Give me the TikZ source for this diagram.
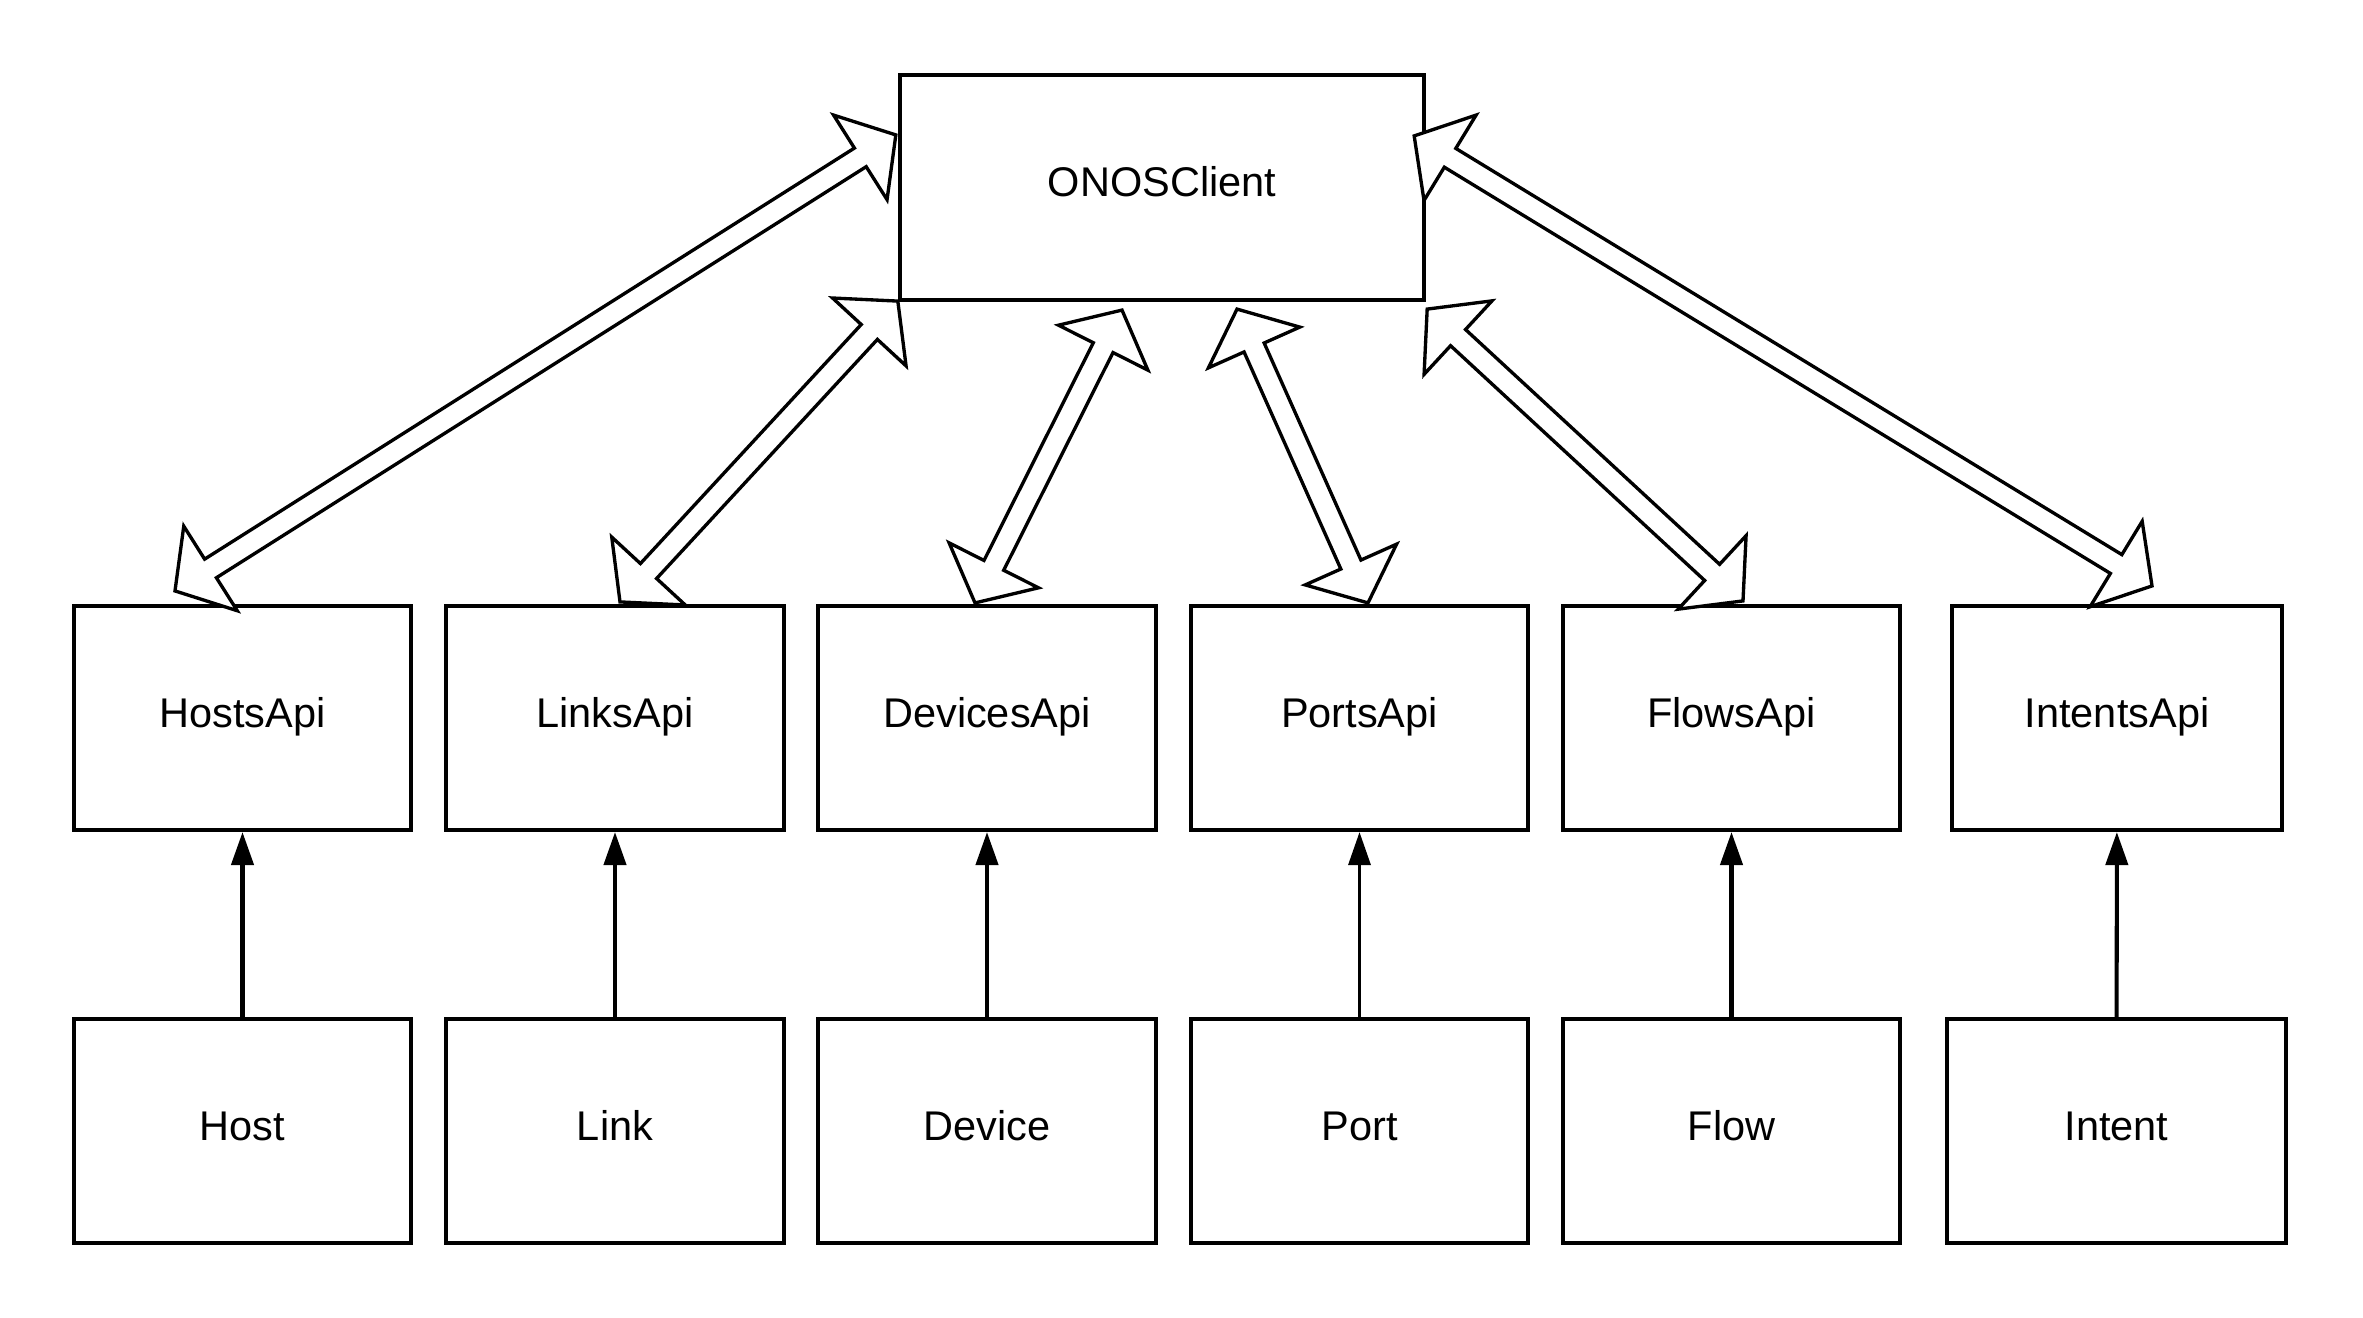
\documentclass[tikz,border=0pt]{standalone}
\usepackage{fontspec}
\setmainfont{Liberation Sans}
\usetikzlibrary{calc,arrows.meta}
\tikzset{
  box/.style={draw, line width=1.15pt, inner sep=0pt, fill=white,
    font=\fontsize{11.8pt}{14pt}\selectfont, text height=0.73em, text depth=0.21em},
  apibox/.style={box, minimum width=3.37cm, minimum height=2.24cm},
  blockarrow/.style={draw, fill=white, line width=0.95pt, line join=miter},
  simplearrow/.style={line width=1.15pt, -{Triangle[length=9.4pt,width=6.3pt]}},
}
\newcommand{\dblarrow}[2]{%
  \coordinate (ha) at ($(#1)!0.42cm!(#2)$);
  \coordinate (hb) at ($(#2)!0.42cm!(#1)$);
  \draw[blockarrow] (#1) -- ($(ha)!0.5cm!90:(#2)$) -- ($(ha)!0.11cm!90:(#2)$)
    -- ($(hb)!0.11cm!-90:(#1)$) -- ($(hb)!0.5cm!-90:(#1)$) -- (#2)
    -- ($(hb)!0.5cm!90:(#1)$) -- ($(hb)!0.11cm!90:(#1)$)
    -- ($(ha)!0.11cm!-90:(#2)$) -- ($(ha)!0.5cm!-90:(#2)$) -- cycle;}
\begin{document}
\begin{tikzpicture}[x=0.01cm, y=-0.01cm]
\useasboundingbox (0,0) rectangle (2363,1318);
\fill[white] (0,0) rectangle (2363,1318);
% top
\node[box, minimum width=5.24cm, minimum height=2.25cm] (onos) at (1162,187.5) {ONOSClient};
% api row
\node[apibox] (hostsapi) at (242.5,718) {HostsApi};
\node[apibox, minimum width=3.38cm] (linksapi) at (615,718) {LinksApi};
\node[apibox, minimum width=3.38cm] (devicesapi) at (987,718) {DevicesApi};
\node[apibox] (portsapi) at (1359.5,718) {PortsApi};
\node[apibox] (flowsapi) at (1731.5,718) {FlowsApi};
\node[apibox, minimum width=3.30cm] (intentsapi) at (2117,718) {IntentsApi};
% bottom row
\node[apibox] (host) at (242.5,1131) {Host};
\node[apibox, minimum width=3.38cm] (link) at (615,1131) {Link};
\node[apibox, minimum width=3.38cm] (device) at (987,1131) {Device};
\node[apibox] (port) at (1359.5,1131) {Port};
\node[apibox] (flow) at (1731.5,1131) {Flow};
\node[apibox, minimum width=3.39cm] (intent) at (2116.5,1131) {Intent};
% simple arrows
\draw[simplearrow] (host) -- (hostsapi);
\draw[simplearrow] (link) -- (linksapi);
\draw[simplearrow] (device) -- (devicesapi);
\draw[simplearrow, line width=0.85pt] (port) -- (portsapi);
\draw[simplearrow] (flow) -- (flowsapi);
\draw[simplearrow] (intent) -- (intentsapi);
% block arrow endpoints
\coordinate (h1) at ($(hostsapi.north)+(-67.5,-13)$);
\coordinate (h2) at ($(onos.north west)+(-2,62)$);
\coordinate (l1) at ($(linksapi.north)+(5,-2)$);
\coordinate (l2) at ($(onos.south west)+(0,-1)$);
\coordinate (d1) at ($(devicesapi.north)+(-12,-1)$);
\coordinate (d2) at ($(onos.south)+(-40,8)$);
\coordinate (p1) at ($(portsapi.north)+(8.5,-1)$);
\coordinate (p2) at ($(onos.south)+(75,7)$);
\coordinate (f1) at ($(flowsapi.north)+(11.5,-3)$);
\coordinate (f2) at ($(onos.south east)+(1,7)$);
\coordinate (i1) at ($(intentsapi.north)+(35,-18)$);
\coordinate (i2) at ($(onos.north east)+(-12,63)$);
% block arrows
\dblarrow{h1}{h2}
\dblarrow{l1}{l2}
\dblarrow{d1}{d2}
\dblarrow{p1}{p2}
\dblarrow{f1}{f2}
\dblarrow{i1}{i2}
\end{tikzpicture}
\end{document}
